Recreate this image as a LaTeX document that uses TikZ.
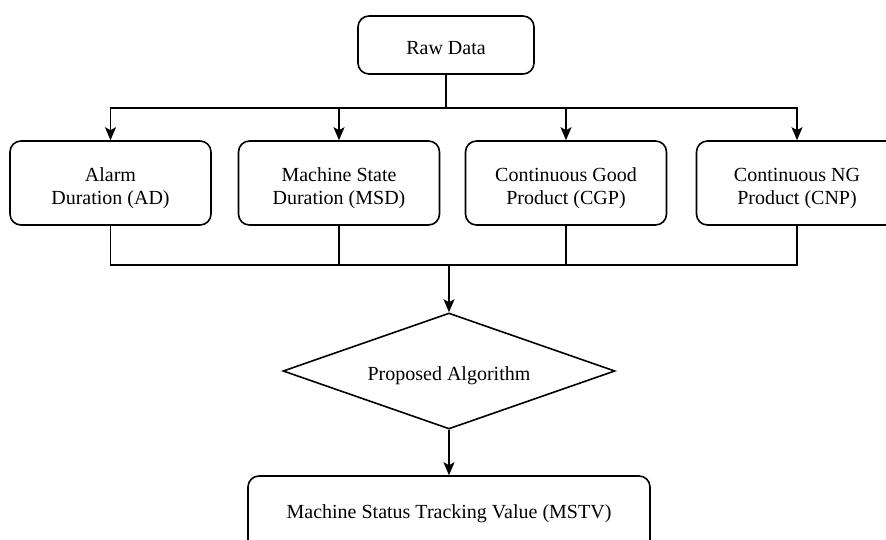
\documentclass[tikz,border=0pt]{standalone}
\usepackage{fontspec}
\setmainfont{Liberation Serif}
\usetikzlibrary{shapes.geometric,arrows.meta}
\newcommand\twolines[2]{\smash{\raisebox{2pt}{\begin{tabular}[t]{@{}c@{}}#1\\#2\end{tabular}}}}
\newcommand\oneline[2]{\smash{\raisebox{#1}{#2}}}
\begin{document}
\begin{tikzpicture}[x=1pt,y=-1pt,
  every node/.style={font=\fontsize{20}{23}\selectfont, align=center, inner sep=0pt},
  rbox/.style={draw, line width=1.6pt, rounded corners=11pt},
  smallbox/.style={rbox, minimum width=201pt, minimum height=84pt},
  decide/.style={draw, line width=1.6pt, diamond, aspect=2.86, minimum width=332pt, minimum height=116pt},
  conn/.style={line width=1.6pt},
  arr/.style={conn, -{Stealth[length=13pt,width=11pt,inset=3pt]}}]
\useasboundingbox (0,0) rectangle (886,539);
\node[rbox, minimum width=176pt, minimum height=58pt] (raw) at (446,45) {\oneline{-9pt}{Raw Data}};
\node[smallbox] (ad) at (110.5,183) {\twolines{Alarm}{Duration (AD)}};
\node[smallbox] (msd) at (339,183) {\twolines{Machine State}{Duration (MSD)}};
\node[smallbox] (cgp) at (566,183) {\twolines{Continuous Good}{Product (CGP)}};
\node[smallbox] (cnp) at (797,183) {\twolines{Continuous NG}{Product (CNP)}};
\node[decide] (alg) at (449,371) {\oneline{-9pt}{Proposed Algorithm}};
\node[rbox, minimum width=402pt, minimum height=84pt] (mstv) at (449,518) {\oneline{0pt}{Machine Status Tracking Value (MSTV)}};
\coordinate (tb) at (446,108);
\coordinate (bb) at (449,265);
\draw[conn] (raw.south) -- (tb);
\draw[arr] (tb) -| (ad.north);
\draw[arr] (tb) -| (msd.north);
\draw[arr] (tb) -| (cgp.north);
\draw[arr] (tb) -| (cnp.north);
\draw[conn] (ad.south) |- (bb);
\draw[conn] (msd.south) |- (bb);
\draw[conn] (cgp.south) |- (bb);
\draw[conn] (cnp.south) |- (bb);
\draw[arr] (bb) -- (alg.north);
\draw[arr] (alg.south) -- (mstv.north);
\end{tikzpicture}
\end{document}
